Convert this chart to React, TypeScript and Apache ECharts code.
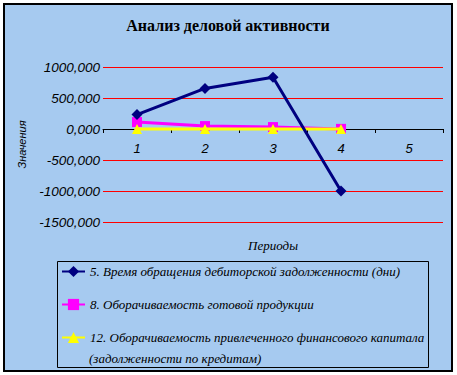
import React, { useEffect, useRef } from "react";
import * as echarts from "echarts";

const periods = ["1", "2", "3", "4", "5"];
const yTicks = [-1500, -1000, -500, 0, 500, 1000];
const seriesNames = [
  "5. Время обращения дебиторской задолженности (дни)",
  "8. Оборачиваемость готовой продукции",
  "12. Оборачиваемость привлеченного финансового капитала",
];
const legendSecondLine = "(задолженности по кредитам)";
const receivableDays = [232, 654, 833, -1000, null];
const finishedGoodsTurnover = [112, 47, 31, 2, null];
const borrowedCapitalTurnover = [2, 1, 1, 0, null];

const fmt = (v: number) => v.toFixed(3).replace(".", ",");

export default function App() {
  const ref = useRef<HTMLDivElement>(null);
  useEffect(() => {
    if (!ref.current) return;
    const chart = echarts.init(ref.current, null, { renderer: "svg" });
    const serifItalic = {
      fontFamily: "Liberation Serif",
      fontStyle: "italic" as const,
      fontSize: 13,
      color: "#000",
    };
    const gridTop = 67;
    const gridHeight = 155;
    const minV = yTicks[0];
    const maxV = yTicks[yTicks.length - 1];
    const zeroOffset = -Math.round((gridHeight * (0 - minV)) / (maxV - minV));
    chart.setOption({
      animation: false,
      backgroundColor: "#ffffff",
      graphic: [
        {
          type: "rect",
          z: -10,
          shape: { x: 4, y: 4, width: 448, height: 367 },
          style: { fill: "#A6CAF0", stroke: "#000", lineWidth: 2 },
        },
        {
          type: "rect",
          z: -5,
          shape: { x: 57.5, y: 261.5, width: 371, height: 106 },
          style: { fill: "none", stroke: "#000", lineWidth: 1 },
        },
        {
          type: "text",
          x: 228,
          y: 25,
          style: {
            text: "Анализ деловой активности",
            fontFamily: "Liberation Serif",
            fontWeight: "bold",
            fontSize: 16,
            fill: "#000",
            align: "center",
            verticalAlign: "middle",
          },
        },
        {
          type: "text",
          x: 273,
          y: 245,
          style: {
            text: "Периоды",
            fontFamily: "Liberation Serif",
            fontStyle: "italic",
            fontSize: 13,
            fill: "#000",
            align: "center",
            verticalAlign: "middle",
          },
        },
        {
          type: "text",
          x: 89,
          y: 358,
          style: {
            text: legendSecondLine,
            fontFamily: "Liberation Serif",
            fontStyle: "italic",
            fontSize: 13,
            fill: "#000",
            align: "left",
            verticalAlign: "middle",
          },
        },
      ],
      legend: {
        orient: "vertical",
        left: 57,
        top: 261,
        padding: [4, 4, 4, 4],
        itemWidth: 23,
        itemHeight: 14,
        itemGap: 20,
        data: seriesNames,
        textStyle: { ...serifItalic, padding: [0, 0, 0, 0] },
        selectedMode: false,
      },
      grid: { left: 103, right: 14, top: gridTop, height: gridHeight, containLabel: false },
      xAxis: {
        type: "category",
        data: periods,
        boundaryGap: true,
        position: "bottom",
        offset: zeroOffset,
        axisLine: { onZero: false, lineStyle: { color: "#000", width: 1 } },
        axisTick: { show: true, length: 4, lineStyle: { color: "#000" } },
        axisLabel: {
          fontFamily: "Liberation Sans",
          fontStyle: "italic",
          fontSize: 13,
          color: "#000",
          margin: 13,
        },
      },
      yAxis: {
        type: "value",
        min: minV,
        max: maxV,
        interval: 500,
        name: "Значения",
        nameLocation: "middle",
        nameGap: 76,
        nameTextStyle: {
          fontFamily: "Liberation Sans",
          fontStyle: "italic",
          fontSize: 11,
          color: "#000",
        },
        axisLine: { show: false },
        axisTick: { show: false },
        axisLabel: {
          fontFamily: "Liberation Sans",
          fontStyle: "italic",
          fontSize: 13.5,
          color: "#000",
          margin: 3,
          formatter: (v: number) => fmt(v),
        },
        splitLine: { show: true, lineStyle: { color: "#FF0000", width: 1 } },
      },
      series: [
        {
          name: seriesNames[1],
          type: "line",
          data: finishedGoodsTurnover,
          symbol: "rect",
          symbolSize: 10,
          color: "#FF00FF",
          lineStyle: { width: 3, color: "#FF00FF" },
          itemStyle: { color: "#FF00FF" },
          z: 2,
        },
        {
          name: seriesNames[2],
          type: "line",
          data: borrowedCapitalTurnover,
          symbol: "triangle",
          symbolSize: 10,
          color: "#FFFF00",
          lineStyle: { width: 3, color: "#FFFF00" },
          itemStyle: { color: "#FFFF00" },
          z: 3,
        },
        {
          name: seriesNames[0],
          type: "line",
          data: receivableDays,
          symbol: "diamond",
          symbolSize: 11,
          color: "#000080",
          lineStyle: { width: 3, color: "#000080" },
          itemStyle: { color: "#000080" },
          z: 4,
        },
      ],
    });
    return () => chart.dispose();
  }, []);
  return (
    <div
      ref={ref}
      style={{ position: "absolute", left: 0, top: 0, width: 457, height: 375 }}
    />
  );
}
